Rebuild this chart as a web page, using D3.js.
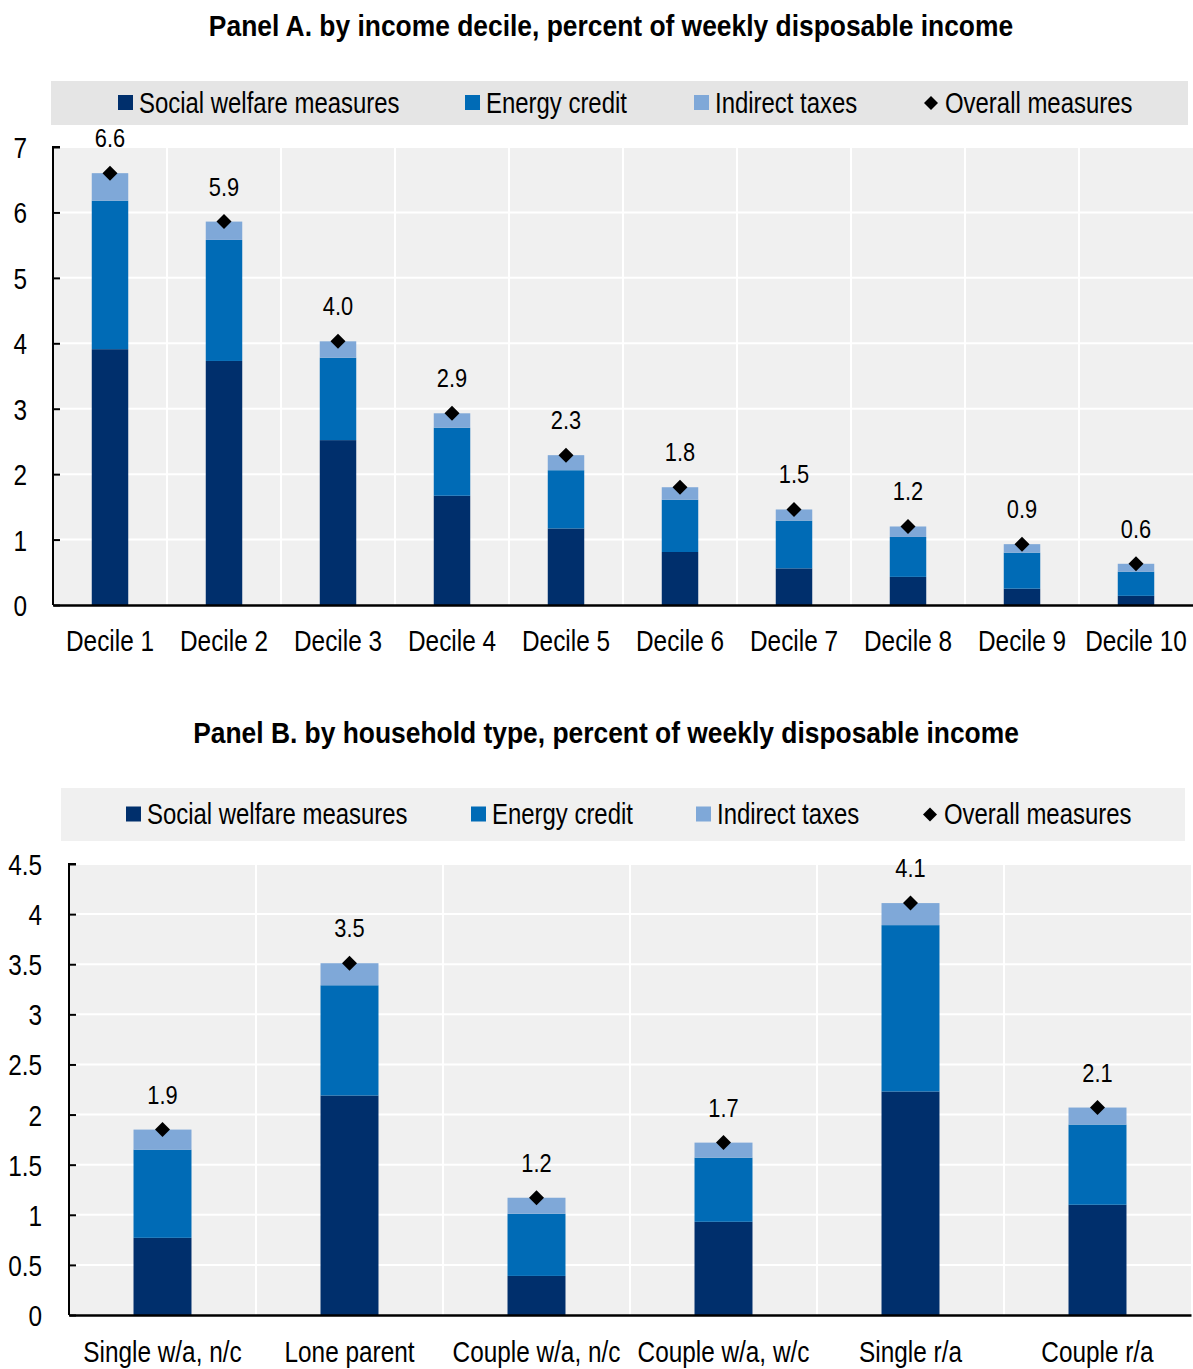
<!DOCTYPE html>
<html>
<head>
<meta charset="utf-8">
<script src="https://cdn.jsdelivr.net/npm/d3@7"></script>
<style>
  body { margin: 0; background: #fff; }
  svg text { font-family: "Liberation Sans", Arial, sans-serif; fill: #000; }
</style>
</head>
<body>
<svg id="chart" width="1193" height="1369"></svg>
<script>
const seriesNames = ["Social welfare measures", "Energy credit", "Indirect taxes"];
const seriesColors = ["#002f6c", "#006bb6", "#7fa8d8"];
const overallName = "Overall measures";

// Panel A
const decileCats = ["Decile 1", "Decile 2", "Decile 3", "Decile 4", "Decile 5", "Decile 6", "Decile 7", "Decile 8", "Decile 9", "Decile 10"];
const decileSocial = [3.91, 3.73, 2.52, 1.67, 1.17, 0.81, 0.56, 0.43, 0.25, 0.14];
const decileEnergy = [2.27, 1.85, 1.26, 1.04, 0.89, 0.80, 0.73, 0.61, 0.55, 0.37];
const decileIndirect = [0.42, 0.28, 0.25, 0.22, 0.23, 0.19, 0.17, 0.16, 0.13, 0.12];
const decileOverall = [6.60, 5.86, 4.03, 2.93, 2.29, 1.80, 1.46, 1.20, 0.93, 0.63];
const decileTicks = [0, 1, 2, 3, 4, 5, 6, 7];

// Panel B
const householdCats = ["Single w/a, n/c", "Lone parent", "Couple w/a, n/c", "Couple w/a, w/c", "Single r/a", "Couple r/a"];
const householdSocial = [0.77, 2.19, 0.39, 0.93, 2.23, 1.10];
const householdEnergy = [0.88, 1.10, 0.62, 0.64, 1.66, 0.80];
const householdIndirect = [0.20, 0.22, 0.16, 0.15, 0.22, 0.17];
const householdOverall = [1.85, 3.51, 1.17, 1.72, 4.11, 2.07];
const householdTicks = [0, 0.5, 1, 1.5, 2, 2.5, 3, 3.5, 4, 4.5];

const svg = d3.select("#chart");

// squeeze text horizontally (narrow font look), keeping its anchor point
function narrow(sel, k = 0.84) {
  sel.each(function () {
    const t = d3.select(this);
    const x = +t.attr("x") || 0;
    t.attr("x", x / k).attr("transform", `scale(${k},1)`);
  });
  return sel;
}

function diamond(cx, cy, r) {
  return `M${cx},${cy - r}L${cx + r},${cy}L${cx},${cy + r}L${cx - r},${cy}Z`;
}

function drawPanel(opt) {
  const g = svg.append("g");
  const rows = opt.cats.map((c, i) => ({
    cat: c, s0: opt.social[i], s1: opt.energy[i], s2: opt.indirect[i], total: opt.overall[i]
  }));

  g.append("text").attr("x", opt.titleX).attr("y", opt.titleY)
    .attr("text-anchor", "middle").attr("font-weight", "bold").attr("font-size", "30px")
    .text(opt.title).call(narrow, 0.88);

  // legend
  const lg = g.append("g");
  lg.append("rect").attr("x", opt.legend.x0).attr("y", opt.legend.y0)
    .attr("width", opt.legend.x1 - opt.legend.x0).attr("height", opt.legend.y1 - opt.legend.y0)
    .attr("fill", opt.legend.fill);
  const ly = (opt.legend.y0 + opt.legend.y1) / 2;
  seriesNames.forEach((name, i) => {
    const x = opt.legend.items[i];
    lg.append("rect").attr("x", x).attr("y", ly - 8).attr("width", 15).attr("height", 15).attr("fill", seriesColors[i]);
    lg.append("text").attr("x", x + 21).attr("y", ly + 10).attr("font-size", "29px").text(name).call(narrow, 0.825);
  });
  const dx = opt.legend.items[3];
  lg.append("path").attr("d", diamond(dx, ly, 7)).attr("fill", "#000");
  lg.append("text").attr("x", dx + 14).attr("y", ly + 10).attr("font-size", "29px").text(overallName).call(narrow, 0.825);

  const x = d3.scaleBand().domain(opt.cats).range([opt.left, opt.right]).paddingInner(0).paddingOuter(0);
  const y = d3.scaleLinear().domain([0, opt.yMax]).range([opt.bottom, opt.top]);

  // plot background
  g.append("rect").attr("x", opt.left).attr("y", opt.top)
    .attr("width", opt.right - opt.left).attr("height", opt.bottom - opt.top).attr("fill", "#f0f0f0");

  // gridlines
  g.append("g").selectAll("line").data(opt.ticks.slice(1)).join("line")
    .attr("x1", opt.left).attr("x2", opt.right)
    .attr("y1", d => y(d)).attr("y2", d => y(d))
    .attr("stroke", "#fff").attr("stroke-width", 2);
  g.append("g").selectAll("line").data(opt.cats.slice(1)).join("line")
    .attr("x1", d => x(d)).attr("x2", d => x(d))
    .attr("y1", opt.top).attr("y2", opt.bottom)
    .attr("stroke", "#fff").attr("stroke-width", 2);

  // stacked bars
  const stack = d3.stack().keys(["s0", "s1", "s2"])(rows);
  const bw = x.bandwidth() * opt.barFrac;
  g.append("g").selectAll("g").data(stack).join("g")
    .attr("fill", (d, i) => seriesColors[i])
    .selectAll("rect").data(d => d).join("rect")
    .attr("x", d => x(d.data.cat) + (x.bandwidth() - bw) / 2)
    .attr("width", bw)
    .attr("y", d => y(d[1]))
    .attr("height", d => y(d[0]) - y(d[1]));

  // y axis
  const yAxis = d3.axisLeft(y).tickValues(opt.ticks).tickSize(-7).tickPadding(opt.tickPad)
    .tickFormat(d => d3.format("")(d));
  const ya = g.append("g").attr("transform", `translate(${opt.left},0)`).call(yAxis);
  ya.select(".domain").attr("stroke", "#000").attr("stroke-width", 2).attr("d", `M${7},${y(opt.yMax)}H0V${opt.bottom}`);
  ya.selectAll(".tick line").attr("stroke", "#000").attr("stroke-width", 2);
  ya.selectAll(".tick text").attr("font-size", "29px").attr("dy", "0.36em").attr("fill", "#000").call(narrow);

  // x axis
  const xAxis = d3.axisBottom(x).tickSize(0).tickPadding(opt.xPad);
  const xa = g.append("g").attr("transform", `translate(0,${opt.bottom})`).call(xAxis);
  xa.select(".domain").attr("stroke", "#000").attr("stroke-width", 2.5);
  xa.selectAll(".tick text").attr("font-size", "29px").attr("fill", "#000").call(narrow);

  // overall diamonds and labels
  const dg = g.append("g");
  dg.selectAll("path").data(rows).join("path")
    .attr("d", d => diamond(x(d.cat) + x.bandwidth() / 2, y(d.total), 7.5))
    .attr("fill", "#000");
  dg.selectAll("text").data(rows).join("text")
    .attr("x", d => x(d.cat) + x.bandwidth() / 2)
    .attr("y", d => y(d.total) - 26)
    .attr("text-anchor", "middle").attr("font-size", "26px")
    .text(d => d3.format(".1f")(d.total)).call(narrow);
}

drawPanel({
  title: "Panel A. by income decile, percent of weekly disposable income",
  titleX: 611, titleY: 36,
  legend: { x0: 51, x1: 1188, y0: 81, y1: 125, fill: "#e5e5e5", items: [118, 465, 694, 931] },
  cats: decileCats, social: decileSocial, energy: decileEnergy, indirect: decileIndirect, overall: decileOverall,
  ticks: decileTicks, yMax: 7,
  left: 53, right: 1193, top: 147, bottom: 605,
  barFrac: 0.32, tickPad: 26, xPad: 25
});

drawPanel({
  title: "Panel B. by household type, percent of weekly disposable income",
  titleX: 606, titleY: 743,
  legend: { x0: 61, x1: 1185, y0: 788, y1: 841, fill: "#f0f0f0", items: [126, 471, 696, 930] },
  cats: householdCats, social: householdSocial, energy: householdEnergy, indirect: householdIndirect, overall: householdOverall,
  ticks: householdTicks, yMax: 4.5,
  left: 69, right: 1191, top: 864, bottom: 1315,
  barFrac: 0.31, tickPad: 27, xPad: 26
});
</script>
</body>
</html>
